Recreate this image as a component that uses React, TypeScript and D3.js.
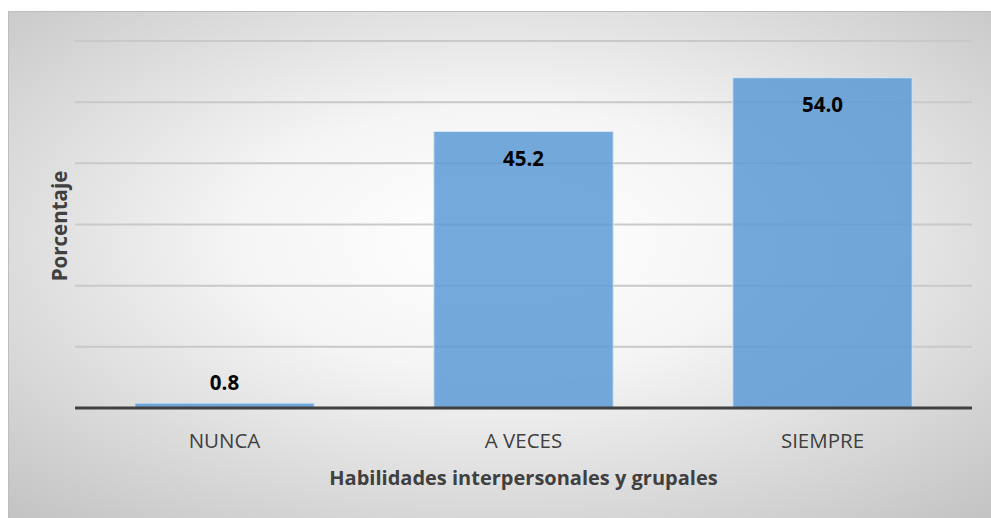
import React from "react";
import * as d3 from "d3";

const categories = ["NUNCA", "A VECES", "SIEMPRE"];
const values = [0.8, 45.2, 54.0];
const yTicks = [0, 10, 20, 30, 40, 50, 60];
const xTitle = "Habilidades interpersonales y grupales";
const yTitle = "Porcentaje";

export default function App() {
  const W = 991, H = 518;
  const left = 75, right = 972, top = 41, bottom = 408;
  const x = d3.scaleBand<string>().domain(categories).range([left, right]).paddingInner(0.4).paddingOuter(0.2);
  const y = d3.scaleLinear().domain([0, 60]).range([bottom, top]);
  const font = "'Open Sans', sans-serif";
  return (
    <svg width={W} height={H} style={{ position: "absolute", left: 0, top: 0 }}>
      <defs>
        <radialGradient id="bg" cx="50%" cy="45%" r="75%">
          <stop offset="0%" stopColor="#ffffff" />
          <stop offset="35%" stopColor="#f5f5f5" />
          <stop offset="100%" stopColor="#c2c2c2" />
        </radialGradient>
      </defs>
      <rect x={8.5} y={11.5} width={W - 8} height={H - 11} fill="url(#bg)" stroke="#bdbdbd" strokeWidth={1} />
      {yTicks.filter((t) => t > 0).map((t) => (
        <line key={t} x1={left} x2={right} y1={y(t)} y2={y(t)} stroke="#c9c9c9" strokeWidth={2} />
      ))}
      {categories.map((c, i) => (
        <rect key={c} x={x(c)} y={y(values[i])} width={x.bandwidth()} height={bottom - y(values[i])}
          fill="#5b9bd5" fillOpacity={0.85} stroke="#d6e6f5" strokeWidth={1} />
      ))}
      <line x1={left} x2={right} y1={bottom} y2={bottom} stroke="#404040" strokeWidth={3} />
      {categories.map((c, i) => {
        const inside = values[i] > 10;
        const ly = inside ? y(values[i]) + 34 : y(values[i]) - 13;
        return (
          <text key={c} x={(x(c) as number) + x.bandwidth() / 2} y={ly} textAnchor="middle"
            fontFamily={font} fontWeight="bold" fontSize={20.5} fill="#000">
            {values[i].toFixed(1)}
          </text>
        );
      })}
      {categories.map((c) => (
        <text key={c} x={(x(c) as number) + x.bandwidth() / 2} y={448} textAnchor="middle"
          fontFamily={font} fontSize={20.5} fill="#404040">{c}</text>
      ))}
      <text x={(left + right) / 2} y={485} textAnchor="middle" fontFamily={font} fontWeight="bold" fontSize={20} fill="#404040">
        {xTitle}
      </text>
      <text transform={`translate(67,226) rotate(-90)`} textAnchor="middle" fontFamily={font} fontWeight="bold" fontSize={20.5} fill="#404040">
        {yTitle}
      </text>
    </svg>
  );
}
